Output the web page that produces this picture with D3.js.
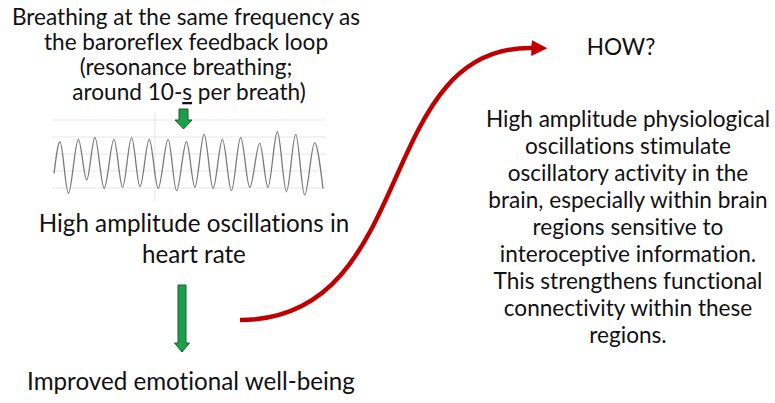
<!DOCTYPE html>
<html>
<head>
<meta charset="utf-8">
<script src="https://cdn.jsdelivr.net/npm/d3@7"></script>
<style>
  body { margin: 0; background: #fff; }
  text { font-family: Lato, "Open Sans", sans-serif; fill: #111; font-variant-ligatures: none; }
</style>
</head>
<body>
<script>
// heart rate trace (s, bpm): start, then peak/trough pairs
const timeSec = [0, 3.3, 7.9, 13.4, 18.0, 22.5, 27.6, 33.0, 37.7, 42.7, 47.3, 52.4, 57.3, 62.8, 67.4,
                 72.9, 77.5, 82.6, 87.5, 92.7, 97.6, 102.7, 107.7, 113.2, 117.7, 122.9, 127.9, 133.0, 137.9, 143.4, 148.0];
const heartRate = [63.6, 82.2, 51.9, 83.6, 59.7, 84.8, 54.8, 83.6, 55.4, 84.6, 55.8, 83.6, 54.8, 83.6, 53.4,
                   82.2, 55.4, 86.6, 54.8, 83.6, 53.4, 84.8, 55.4, 81.3, 55.4, 88.1, 52.8, 86.6, 50.9, 81.6, 54.8];
const hrTicks = [55, 65, 75, 85, 95];
const timeTicks = [55.5];

const topLines = ["Breathing at the same frequency as", "the baroreflex feedback loop",
                  "(resonance breathing;", "around 10-s per breath)"];
const midLines = ["High amplitude oscillations in", "heart rate"];
const bottomLine = "Improved emotional well-being";
const howLabel = "HOW?";
const rightLines = ["High amplitude physiological", "oscillations stimulate", "oscillatory activity in the",
                    "brain, especially within brain", "regions sensitive to", "interoceptive information.",
                    "This strengthens functional", "connectivity within these", "regions."];

const W = 775, H = 403;
const svg = d3.select("body").append("svg")
    .attr("width", W)
    .attr("height", H);

const fs = 22.6;   // small text
const fsBig = 24.2; // left column main labels

// text blocks
function block(lines, cx, y0, step, size) {
  svg.append("g").selectAll("text")
    .data(lines)
    .enter()
    .append("text")
    .attr("x", cx)
    .attr("y", (d, i) => y0 + i * step)
    .attr("text-anchor", "middle")
    .style("font-size", size + "px")
    .text(d => d);
}
block(topLines.slice(0, 3), 186, 25, 25, fs);
// last line has an underlined "s"
var l4 = svg.append("text")
    .attr("x", 189).attr("y", 100)
    .attr("text-anchor", "middle")
    .style("font-size", fs + "px");
l4.append("tspan").text("around 10-");
l4.append("tspan").style("text-decoration", "underline").text("s");
l4.append("tspan").text(" per breath)");

block(midLines, 194, 232, 31, fsBig);
block([bottomLine], 191, 390, 0, fsBig);
block([howLabel], 621, 55, 0, fs);
block(rightLines, 628, 127, 27, fs);

// heart rate trace
const x = d3.scaleLinear().domain([0, 148]).range([54, 323]);
const y = d3.scaleLinear().domain([55, 95]).range([188, 120]);

const grid = svg.append("g");
grid.selectAll("line.h")
  .data(hrTicks)
  .enter()
  .append("line")
  .attr("x1", x(-1)).attr("x2", x(149.5))
  .attr("y1", d => y(d)).attr("y2", d => y(d))
  .attr("stroke", "#e6e6e6").attr("stroke-width", 1);
grid.selectAll("line.v")
  .data(timeTicks)
  .enter()
  .append("line")
  .attr("x1", d => x(d)).attr("x2", d => x(d))
  .attr("y1", y(99)).attr("y2", y(47))
  .attr("stroke", "#e6e6e6").attr("stroke-width", 1);

const line = d3.line()
    .x((d, i) => x(timeSec[i]))
    .y(d => y(d))
    .curve(d3.curveMonotoneX);

svg.append("path")
  .datum(heartRate)
  .attr("d", line)
  .attr("fill", "none")
  .attr("stroke", "#7a7a7a")
  .attr("stroke-width", 1.3);

// green arrows
function downArrow(cx, top, headTop, tip, shaftW, headW) {
  const pts = [[cx - shaftW / 2, top], [cx + shaftW / 2, top], [cx + shaftW / 2, headTop],
               [cx + headW / 2, headTop], [cx, tip], [cx - headW / 2, headTop], [cx - shaftW / 2, headTop]];
  svg.append("polygon")
    .attr("points", pts.map(p => p.join(",")).join(" "))
    .attr("fill", "#1aa04a")
    .attr("stroke", "#1f5a2e")
    .attr("stroke-width", 1);
}
downArrow(183.5, 109, 120, 129, 9, 17);
downArrow(182, 285, 343, 352, 8, 15);

// red S-curve arrow
svg.append("defs").append("marker")
  .attr("id", "head")
  .attr("viewBox", "0 0 10 10")
  .attr("refX", 1).attr("refY", 5)
  .attr("markerUnits", "userSpaceOnUse")
  .attr("markerWidth", 16).attr("markerHeight", 17)
  .attr("orient", "auto")
  .append("path")
  .attr("d", "M0,0 L10,5 L0,10 Z")
  .attr("fill", "#c00000");

const curve = d3.path();
curve.moveTo(240, 320);
curve.bezierCurveTo(420, 320, 372, 44, 533, 48);
svg.append("path")
  .attr("d", curve.toString())
  .attr("fill", "none")
  .attr("stroke", "#c00000")
  .attr("stroke-width", 4.5)
  .attr("marker-end", "url(#head)");
</script>
</body>
</html>
